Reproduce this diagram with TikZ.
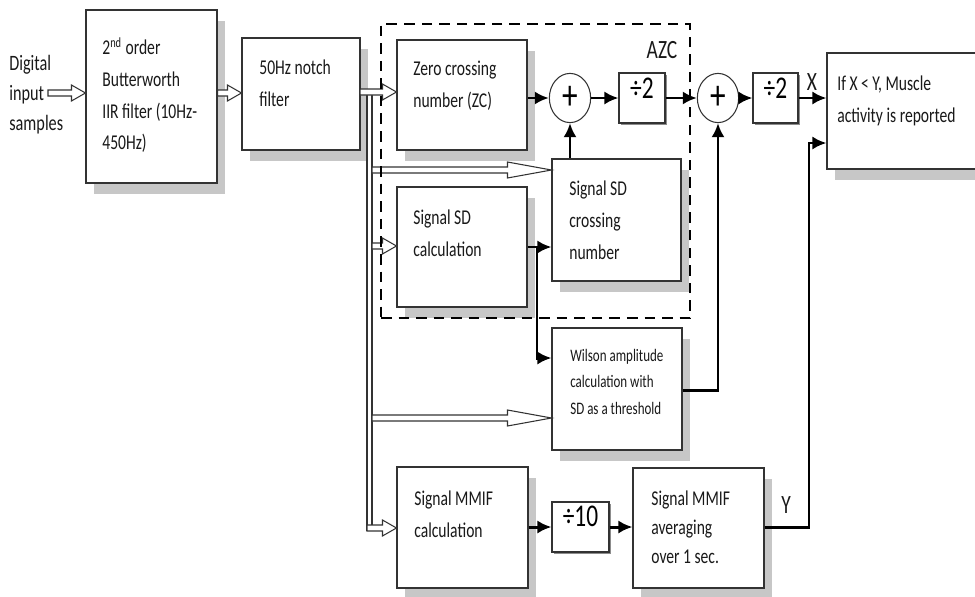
\documentclass[tikz,border=0pt]{standalone}
\usepackage{fontspec}
\setmainfont[FakeStretch=0.74]{Carlito}
\usetikzlibrary{shapes.geometric, calc, arrows.meta, shadows, fit}

\newcommand{\hollow}[3]{%
	\draw[hollowarr] ($(#1)+(0,-3)$) -- ($(#2)+(-#3,-3)$) -- ($(#2)+(-#3,-8)$) -- (#2)
	-- ($(#2)+(-#3,8)$) -- ($(#2)+(-#3,3)$) -- ($(#1)+(0,3)$) -- cycle;}

\begin{document}
\begin{tikzpicture}[x=0.02cm, y=-0.02cm,
	block/.style={draw=black!80, line width=0.6pt, fill=white, inner sep=0pt,
		drop shadow={shadow xshift=4.5pt, shadow yshift=-6pt, fill=black!22, opacity=1}},
	divblock/.style={draw=black!80, line width=0.6pt, fill=white, inner sep=0pt,
		font=\fontsize{18}{18}\selectfont,
		drop shadow={shadow xshift=1.2pt, shadow yshift=-1.2pt, fill=black!45, opacity=1}},
	adder/.style={ellipse, draw=black!80, line width=0.6pt, fill=white, inner sep=0pt,
		minimum width=23.5pt, minimum height=28pt, font=\fontsize{24}{24}\selectfont},
	txt/.style={anchor=north west, inner sep=0pt, align=left, text=black!90,
		font=\fontsize{12}{18}\selectfont},
	smalltxt/.style={txt, font=\fontsize{10}{15}\selectfont},
	plain/.style={inner sep=0pt, text=black!90, font=\fontsize{15}{15}\selectfont},
	hollowarr/.style={draw=black!80, line width=0.6pt, fill=white},
	bus/.style={draw=black!80, line width=0.6pt},
	arr/.style={-{Latex[length=8pt,width=7.5pt]}, line width=1.7pt},
	azc/.style={draw, dashed, line width=1.4pt, dash pattern=on 6pt off 4pt, inner sep=0pt}]
	\clip (0,0) rectangle (975,596);

	% blocks
	\node[block, fit={(86,10) (217,183)}] (bw) {};
	\node[block, fit={(242,38) (360,150)}] (notch) {};
	\node[block, fit={(397,40) (527,150)}] (zc) {};
	\node[block, fit={(397,187) (527,307)}] (sdcalc) {};
	\node[block, fit={(552,159) (681,281)}] (sdcross) {};
	\node[block, fit={(552,328) (682,450)}] (wilson) {};
	\node[block, fit={(397,467) (528,588)}] (mmif) {};
	\node[block, fit={(633,468) (764,588)}] (mmifavg) {};
	\node[block, fit={(827,53) (992,169)}] (decide) {};

	\node[divblock, fit={(619,73) (665,123)}] (halfa) {÷2};
	\node[divblock, fit={(753,73) (798,123)}] (halfb) {÷2};
	\node[divblock, fit={(552,502) (609,552)}] (tenth) {÷10};
	\node[adder] (suma) at (570,98) {+};
	\node[adder] (sumb) at (718,98) {+};

	% texts
	\node[txt, font=\fontsize{12.5}{17}\selectfont] (intext) at (9,55) {Digital\\input\\samples};
	\node[txt] (bwtext) at (102,37) {2\textsuperscript{nd} order\\Butterworth\\IIR filter (10Hz-\\450Hz)};
	\node[txt] (notchtext) at (259,60) {50Hz notch\\filter};
	\node[txt] (zctext) at (413,61) {Zero crossing\\number (ZC)};
	\node[txt] (sdcalctext) at (413,210) {Signal SD\\calculation};
	\node[txt] (sdcrosstext) at (569,181) {Signal SD\\crossing\\number};
	\node[smalltxt] (wilsontext) at (570,349) {Wilson amplitude\\calculation with\\SD as a threshold};
	\node[txt] (mmiftext) at (414,491) {Signal MMIF\\calculation};
	\node[txt, font=\fontsize{12}{16.5}\selectfont] (avgtext) at (651,491) {Signal MMIF\\averaging\\over 1 sec.};
	\node[txt] (decidetext) at (837,76) {If X < Y, Muscle\\activity is reported};
	\node[plain] (azclabel) at (662,50) {AZC};
	\node[plain] (xlabel) at (812,82) {X};
	\node[plain] (ylabel) at (786,505) {Y};

	% hollow arrows and bus
	\coordinate (inshaft) at (48,93);
	\coordinate (intip) at (bw.west |- inshaft);
	\coordinate (bwout) at (bw.east |- inshaft);
	\coordinate (notchin) at (notch.west |- inshaft);
	\coordinate (tapzc) at (360,92);
	\coordinate (zcin) at (zc.west |- tapzc);
	\coordinate (busltop) at (367,95);
	\coordinate (buslbot) at (367,531);
	\coordinate (busrtop) at (372,95);
	\coordinate (busrbot) at (372,525);
	\coordinate (tapcross) at (372,170);
	\coordinate (crossin) at (sdcross.west |- tapcross);
	\coordinate (tapcalc) at (372,246);
	\coordinate (calcin) at (sdcalc.west |- tapcalc);
	\coordinate (tapwil) at (372,418);
	\coordinate (wilin) at (wilson.west |- tapwil);
	\coordinate (tapmmif) at (367,528);
	\coordinate (mmifin) at (mmif.west |- tapmmif);

	\draw[bus] (busltop) -- (buslbot);
	\draw[bus] (busrtop) -- (busrbot);
	\hollow{inshaft}{intip}{14}
	\hollow{bwout}{notchin}{14}
	\hollow{tapzc}{zcin}{14}
	\hollow{tapcross}{crossin}{44}
	\hollow{tapcalc}{calcin}{14}
	\hollow{tapwil}{wilin}{44}
	\hollow{tapmmif}{mmifin}{14}

	% signal arrows
	\coordinate (split) at (537,247);
	\coordinate (wilsd) at (wilson.west |- 0,358);
	\coordinate (wilout) at (wilson.east |- 0,390);
	\coordinate (yturn) at (809,527);
	\coordinate (yin) at (decide.west |- 0,143);
	\draw[arr] (zc.east |- suma.west) -- (suma.west);
	\draw[arr] (suma.east) -- (halfa.west);
	\draw[arr] (halfa.east) -- (sumb.west);
	\draw[arr] (sumb.east) -- (halfb.west);
	\draw[arr] (halfb.east) -- (decide.west |- halfb.east);
	\draw[arr] (suma |- sdcross.north) -- (suma.south);
	\draw[arr] (sdcalc.east |- split) -- (sdcross.west |- split);
	\draw[arr] (split) |- (wilsd);
	\draw[arr] (wilout) -| (sumb.south);
	\draw[arr] (mmif.east |- tenth.west) -- (tenth.west);
	\draw[arr] (tenth.east) -- (mmifavg.west |- tenth.east);
	\draw[arr] (mmifavg.east |- yturn) -- (yturn) |- (yin);

	\node[azc, fit={(381,24) (690,318)}] (azcbox) {};
\end{tikzpicture}
\end{document}
